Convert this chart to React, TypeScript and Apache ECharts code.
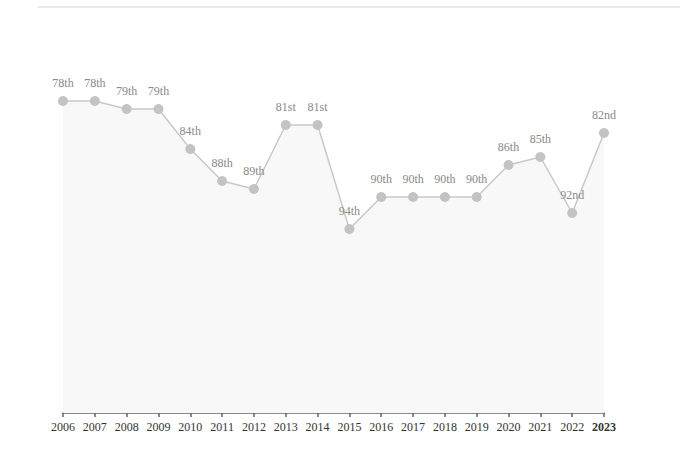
import React, { useEffect, useRef } from "react";
import * as echarts from "echarts";

const years = ["2006","2007","2008","2009","2010","2011","2012","2013","2014","2015","2016","2017","2018","2019","2020","2021","2022","2023"];
const ranks = [78,78,79,79,84,88,89,81,81,94,90,90,90,90,86,85,92,82];
const ordinalLabels = ["78th","78th","79th","79th","84th","88th","89th","81st","81st","94th","90th","90th","90th","90th","86th","85th","92nd","82nd"];

export default function App() {
  const ref = useRef<HTMLDivElement>(null);
  useEffect(() => {
    if (!ref.current) return;
    const chart = echarts.init(ref.current, null, { renderer: "svg" });
    const font = "'Liberation Serif', 'Times New Roman', serif";
    chart.setOption({
      animation: false,
      backgroundColor: "#ffffff",
      grid: { left: 63, right: 76, top: 37, bottom: 62, containLabel: false },
      graphic: [
        { type: "rect", shape: { x: 38, y: 6, width: 642, height: 2 }, style: { fill: "#e9e9e9" }, silent: true },
      ],
      xAxis: {
        type: "category",
        data: years,
        boundaryGap: false,
        axisLine: { lineStyle: { color: "#5f6368", width: 1.5 } },
        axisTick: { show: true, alignWithLabel: true, length: 4, lineStyle: { color: "#5f6368", width: 1.5 } },
        axisLabel: {
          color: "#333",
          fontFamily: font,
          fontSize: 12,
          margin: 8,
          interval: 0,
          formatter: (v: string, i: number) => (i === years.length - 1 ? "{b|" + v + "}" : v),
          rich: { b: { fontWeight: "bold", fontFamily: font, fontSize: 12, color: "#333" } },
        },
        splitLine: { show: false },
      },
      yAxis: {
        type: "value",
        inverse: true,
        min: 70,
        max: 117,
        show: false,
        splitLine: { show: false },
      },
      series: [
        {
          type: "line",
          data: ranks,
          symbol: "circle",
          symbolSize: 10,
          itemStyle: { color: "#c3c3c3" },
          lineStyle: { color: "#c8c8c8", width: 1.5 },
          areaStyle: { color: "#f8f8f8", origin: "end", opacity: 1 },
          label: {
            show: true,
            position: "top",
            distance: 7,
            color: "#8a8a8a",
            fontFamily: font,
            fontSize: 12,
            formatter: (p: any) => ordinalLabels[p.dataIndex],
          },
        },
      ],
    });
    return () => chart.dispose();
  }, []);
  return <div ref={ref} style={{ position: "fixed", left: 0, top: 0, width: 680, height: 475 }} />;
}
